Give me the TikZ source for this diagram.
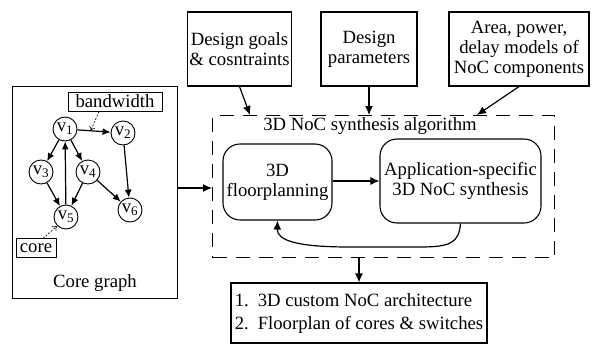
\documentclass[tikz,border=0pt]{standalone}
\usepackage{fontspec}
\setmainfont{Liberation Serif}
\usetikzlibrary{arrows.meta}
\begin{document}
\begin{tikzpicture}[x=1pt,y=-1pt,
  font=\fontsize{18.7}{20}\selectfont,
  box/.style={draw,line width=1.1pt,inner sep=2pt,align=center},
  rbox/.style={box,rounded corners=17pt},
  lbl/.style={draw,line width=0.9pt,inner sep=1.5pt,minimum height=19pt},
  vtx/.style={draw,circle,line width=0.9pt,minimum size=24pt,inner sep=0pt},
  arr/.style={line width=1.2pt,-{Latex[length=9pt,width=8pt]}},
  garr/.style={line width=1.2pt,-{Latex[length=8pt,width=7pt]}},
  hint/.style={line width=0.6pt,dash pattern=on 2pt off 1.5pt,-{To[length=4pt,width=6pt]}},
  dashbox/.style={draw,line width=1.2pt,dash pattern=on 14pt off 9pt,inner sep=0pt}
]
\useasboundingbox (0,0) rectangle (592,346);

% core graph panel
\node[box,minimum width=165pt,minimum height=212pt,anchor=north west] (cg) at (12,86) {};
\node (cgl) at (95,283) {Core graph};
\node[vtx] (v1) at (65,129) {v\textsubscript{1}};
\node[vtx] (v2) at (123,133) {v\textsubscript{2}};
\node[vtx] (v3) at (41,172) {v\textsubscript{3}};
\node[vtx] (v4) at (88,172) {v\textsubscript{4}};
\node[vtx] (v5) at (66,217) {v\textsubscript{5}};
\node[vtx] (v6) at (130,210) {v\textsubscript{6}};
\draw[garr] (v1) -- coordinate[pos=0.4] (bwpt) (v2);
\draw[garr] (v1) -- (v3);
\draw[garr] (v1) -- (v4);
\draw[garr] (v5) -- (v1);
\draw[garr] (v3) -- (v5);
\draw[garr] (v4) -- (v5);
\draw[garr] (v4) -- (v6);
\draw[garr] (v2) -- (v6);
\node[lbl,minimum width=94pt] (bw) at (115,101.5) {bandwidth};
\node[lbl,minimum width=40pt] (core) at (36,248) {core};
\coordinate (bwtail) at (99,111.5);
\coordinate (coretail) at (43,238.5);
\coordinate (corehead) at (57,226);
\draw[hint] (bwtail) -- (bwpt);
\draw[hint] (coretail) -- (corehead);

% inputs
\node[box,minimum width=103pt,minimum height=74pt] (dg) at (239.5,49) {Design goals\\\& cosntraints};
\node[box,minimum width=96pt,minimum height=74pt] (dp) at (369,49) {Design\\parameters};
\node[box,minimum width=140pt,minimum height=74pt] (am) at (519,49) {Area, power,\\delay models of\\NoC components};

% synthesis algorithm
\node[dashbox,minimum width=342pt,minimum height=142pt,anchor=north west] (alg) at (212,115) {};
\node (algt) at (370,126) {3D NoC synthesis algorithm};
\node[rbox,minimum width=109pt,minimum height=76pt] (fp) at (277.5,182) {3D\\floorplanning};
\node[rbox,minimum width=161pt,minimum height=84pt,inner sep=1pt] (app) at (460.5,181) {Application-specific\\3D NoC synthesis};
\coordinate (dgin) at (250,115);
\coordinate (amin) at (477,115);
\draw[arr] (dg.south) -- (dgin);
\draw[arr] (dp.south) -- (dp.south |- alg.north);
\draw[arr] (am.south) -- (amin);
\coordinate (fpr) at (332,181);
\draw[arr] (fp.east |- fpr) -- (app.west |- fpr);
\draw[arr] (app.south) .. controls (459,243) and (450,247) .. (420,247)
  -- (350,247) .. controls (295,247) and (277,240) .. (fp.south);
\coordinate (cgr) at (177,188);
\draw[arr] (cg.east |- cgr) -- (alg.west |- cgr);

% output
\node[box,minimum width=256pt,minimum height=60pt,align=left,font=\fontsize{18.7}{23}\selectfont] (out) at (359,313)
  {\makebox[23pt][l]{1.}3D custom NoC architecture\\\makebox[23pt][l]{2.}Floorplan of cores \& switches};
\draw[arr] (out.north |- alg.south) -- (out.north);
\end{tikzpicture}
\end{document}
